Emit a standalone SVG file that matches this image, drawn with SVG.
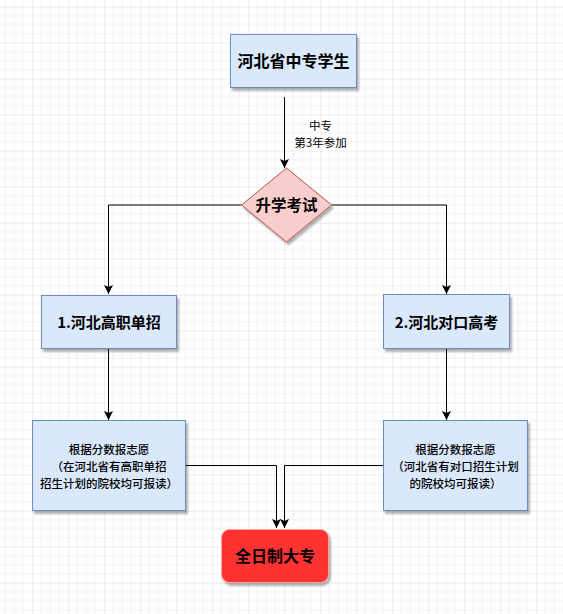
<svg xmlns="http://www.w3.org/2000/svg" width="563" height="614" viewBox="0 0 563 614">
<defs>
<pattern id="grid" patternUnits="userSpaceOnUse" x="32.3" y="6.7" width="36" height="36">
<path d="M9,0V36M18,0V36M27,0V36M0,9H36M0,18H36M0,27H36" stroke="#f0f0f0" stroke-width="1" fill="none"/>
<path d="M0,0V36M0,0H36" stroke="#dedede" stroke-width="1" fill="none"/>
</pattern>
<filter id="sh" x="-10%" y="-10%" width="130%" height="140%">
<feDropShadow dx="2" dy="3" stdDeviation="1" flood-color="#000" flood-opacity="0.3"/>
</filter>
<marker id="arr" markerUnits="userSpaceOnUse" markerWidth="10" markerHeight="10" refX="9" refY="4.5" orient="auto">
<path d="M0,0 L9,4.5 L0,9 L2,4.5 Z" fill="#000"/>
</marker>
</defs>
<style>
.box{fill:#dae8fc;stroke:#6c8ebf;stroke-width:1;filter:url(#sh)}
.t{font-family:"Noto Sans CJK SC","Noto Sans",sans-serif;text-anchor:middle;fill:#000}
.b{font-weight:bold}
.m{font-weight:500}
.edge{fill:none;stroke:#000;stroke-width:1;marker-end:url(#arr)}
</style>
<rect width="563" height="614" fill="#ffffff"/>
<rect width="563" height="614" fill="url(#grid)"/>

<g id="connectors">
<path class="edge" d="M284.5,97 V168"/>
<path class="edge" d="M241.5,205 H108.5 V294"/>
<path class="edge" d="M331.5,205 H446.5 V294"/>
<path class="edge" d="M108.5,349 V420"/>
<path class="edge" d="M446.5,349 V420"/>
<path class="edge" d="M186,465.5 H276.5 V528"/>
<path class="edge" d="M383,465.5 H284.5 V528"/>
<text id="edge-label" class="t" font-size="11.5"><tspan x="320.5" y="129.8">中专</tspan><tspan x="320.5" y="146.6">第3年参加</tspan></text>
</g>

<g id="n-start">
<rect class="box" x="230.5" y="34.5" width="126" height="53"/>
<text class="t b" x="293.5" y="67" font-size="16">河北省中专学生</text>
</g>

<g id="n-exam">
<path d="M286.5,168 L331.5,205 L286.5,242 L241.5,205 Z" fill="#f8cecc" stroke="#b85450" stroke-width="1" filter="url(#sh)"/>
<text class="t b" x="286.5" y="210.5" font-size="15.5">升学考试</text>
</g>

<g id="n-gzdz">
<rect class="box" x="41.5" y="295.5" width="135" height="53"/>
<text class="t b" x="109" y="328" font-size="15">1.河北高职单招</text>
</g>

<g id="n-dkgk">
<rect class="box" x="383.5" y="294.5" width="126" height="54"/>
<text class="t b" x="446.5" y="327.5" font-size="15">2.河北对口高考</text>
</g>

<g id="n-left-detail">
<rect class="box" x="32.5" y="420.5" width="153" height="90"/>
<text class="t m" font-size="11.5"><tspan x="109" y="454.2">根据分数报志愿</tspan><tspan x="109" y="471">（在河北省有高职单招</tspan><tspan x="109" y="487.8">招生计划的院校均可报读）</tspan></text>
</g>

<g id="n-right-detail">
<rect class="box" x="383.5" y="420.5" width="144" height="90"/>
<text class="t m" font-size="11.5"><tspan x="455.5" y="454.2">根据分数报志愿</tspan><tspan x="455.5" y="471">（河北省有对口招生计划</tspan><tspan x="455.5" y="487.8">的院校均可报读）</tspan></text>
</g>

<g id="n-final">
<rect x="221.5" y="529.5" width="107" height="53" rx="8" ry="8" fill="#ff3333" stroke="#f4a8a8" stroke-width="1" filter="url(#sh)"/>
<text class="t b" x="275" y="562" font-size="16">全日制大专</text>
</g>
</svg>
